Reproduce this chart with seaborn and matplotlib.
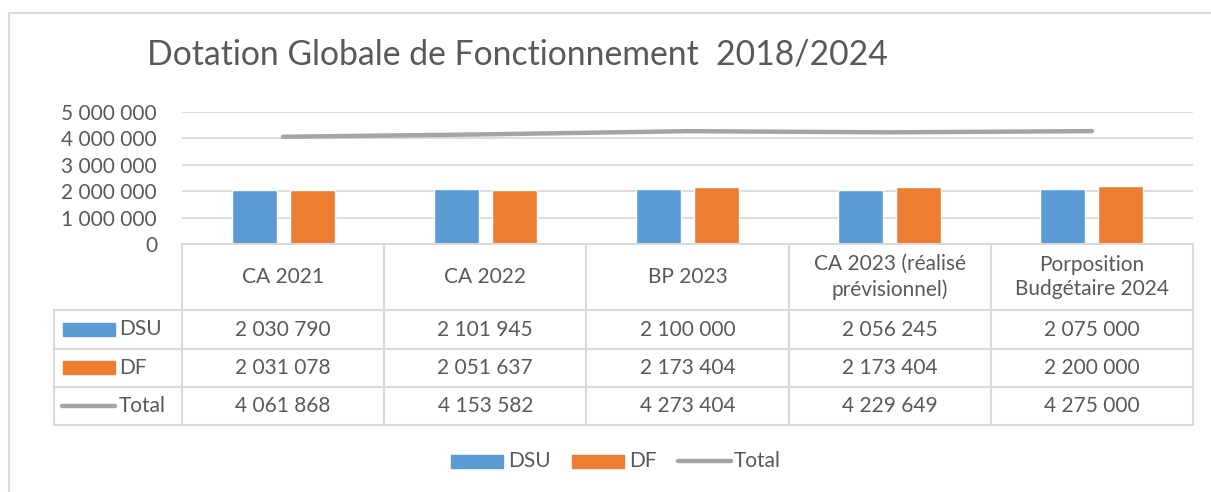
import pandas as pd
import matplotlib.pyplot as plt
import matplotlib.lines as mlines
import matplotlib.patches as mpatches
import seaborn as sns

categories = ["CA 2021", "CA 2022", "BP 2023", "CA 2023 (réalisé\nprévisionnel)",
              "Porposition\nBudgétaire 2024"]
dsu = [2030790, 2101945, 2100000, 2056245, 2075000]
df_vals = [2031078, 2051637, 2173404, 2173404, 2200000]
total = [4061868, 4153582, 4273404, 4229649, 4275000]
yticks = [0, 1000000, 2000000, 3000000, 4000000, 5000000]

BLUE = "#5B9BD5"
ORANGE = "#ED7D31"
GREY = "#A5A5A5"
TXT = "#595959"
GRID = "#D9D9D9"


def fmt(v):
    return f"{v:,}".replace(",", " ")


def plot_data():
    sns.set_style("white")
    plt.rcParams['font.family'] = ['Lato', 'DejaVu Sans']

    W, H = 1211, 492
    fig = plt.figure(figsize=(W / 100, H / 100), dpi=100)

    def fx(px):
        return px / W

    def fy(py):
        return 1 - py / H

    # chart frame
    fig.add_artist(mlines.Line2D([fx(8.5), fx(8.5)], [fy(13), 0], color=GRID, lw=1.5))
    fig.add_artist(mlines.Line2D([fx(8.5), 1], [fy(13), fy(13)], color=GRID, lw=1.5))

    fig.text(fx(147), fy(55), "Dotation Globale de Fonctionnement  2018/2024",
             fontsize=24.3, color=TXT, va="center", ha="left")

    left, right, top, base = 182, 1193, 112, 244
    ax = fig.add_axes([fx(left), fy(base), fx(right - left), (base - top) / H])

    long = pd.DataFrame({
        "cat": list(range(5)) * 2,
        "serie": ["DSU"] * 5 + ["DF"] * 5,
        "value": dsu + df_vals,
    })
    sns.barplot(data=long, x="cat", y="value", hue="serie",
                palette={"DSU": BLUE, "DF": ORANGE}, width=0.574, gap=0.224,
                saturation=1, ax=ax, legend=False, native_scale=True)
    sns.lineplot(x=list(range(5)), y=total, color=GREY, lw=3.2, ax=ax,
                 solid_capstyle="round")

    ax.set_xlim(-0.5, 4.5)
    ax.set_ylim(0, 5000000)
    ax.set_yticks(yticks)
    ax.set_yticklabels([fmt(v) for v in yticks], fontsize=15, color=TXT)
    ax.tick_params(axis="y", length=0, pad=18)
    ax.set_xticks([])
    ax.set_xlabel("")
    ax.set_ylabel("")
    ax.grid(axis="y", color=GRID, lw=1.3)
    ax.set_axisbelow(True)
    for s in ["top", "right", "left"]:
        ax.spines[s].set_visible(False)
    ax.spines["bottom"].set_color(GRID)
    ax.spines["bottom"].set_linewidth(1.5)

    # data table
    col_edges = [left + i * (right - left) / 5 for i in range(6)]
    rows_y = [244, 310, 349, 387, 425]
    lc = dict(color=GRID, lw=1.5)
    for y in rows_y[1:]:
        fig.add_artist(mlines.Line2D([fx(54), fx(right)], [fy(y), fy(y)], **lc))
    for x in col_edges:
        fig.add_artist(mlines.Line2D([fx(x), fx(x)], [fy(244), fy(425)], **lc))
    fig.add_artist(mlines.Line2D([fx(54), fx(54)], [fy(310), fy(425)], **lc))

    for i, c in enumerate(categories):
        cx = (col_edges[i] + col_edges[i + 1]) / 2
        fig.text(fx(cx), fy(277), c, ha="center", va="center", fontsize=15,
                 color=TXT, linespacing=1.3)
        for vals, (y0, y1) in zip([dsu, df_vals, total],
                                  [(310, 349), (349, 387), (387, 425)]):
            fig.text(fx(cx), fy((y0 + y1) / 2), fmt(vals[i]), ha="center",
                     va="center", fontsize=15, color=TXT)

    # row keys
    fig.add_artist(mpatches.Rectangle((fx(63), fy(336)), fx(52), 13 / H,
                                      color=BLUE, transform=fig.transFigure))
    fig.add_artist(mpatches.Rectangle((fx(63), fy(374)), fx(52), 13 / H,
                                      color=ORANGE, transform=fig.transFigure))
    fig.add_artist(mlines.Line2D([fx(62), fx(115)], [fy(406), fy(406)],
                                 color=GREY, lw=3.2, solid_capstyle="round"))
    for lab, y in zip(["DSU", "DF", "Total"], [329, 368, 406]):
        fig.text(fx(119), fy(y), lab, ha="left", va="center", fontsize=15, color=TXT)

    # bottom legend
    fig.add_artist(mpatches.Rectangle((fx(451), fy(468)), fx(52), 13 / H,
                                      color=BLUE, transform=fig.transFigure))
    fig.add_artist(mpatches.Rectangle((fx(572), fy(468)), fx(52), 13 / H,
                                      color=ORANGE, transform=fig.transFigure))
    fig.add_artist(mlines.Line2D([fx(678), fx(731)], [fy(461), fy(461)],
                                 color=GREY, lw=3.2, solid_capstyle="round"))
    for lab, x in zip(["DSU", "DF", "Total"], [508, 629, 734]):
        fig.text(fx(x), fy(461), lab, ha="left", va="center", fontsize=15, color=TXT)

    fig.savefig("out.png", dpi=100)


if __name__ == "__main__":
    plot_data()
